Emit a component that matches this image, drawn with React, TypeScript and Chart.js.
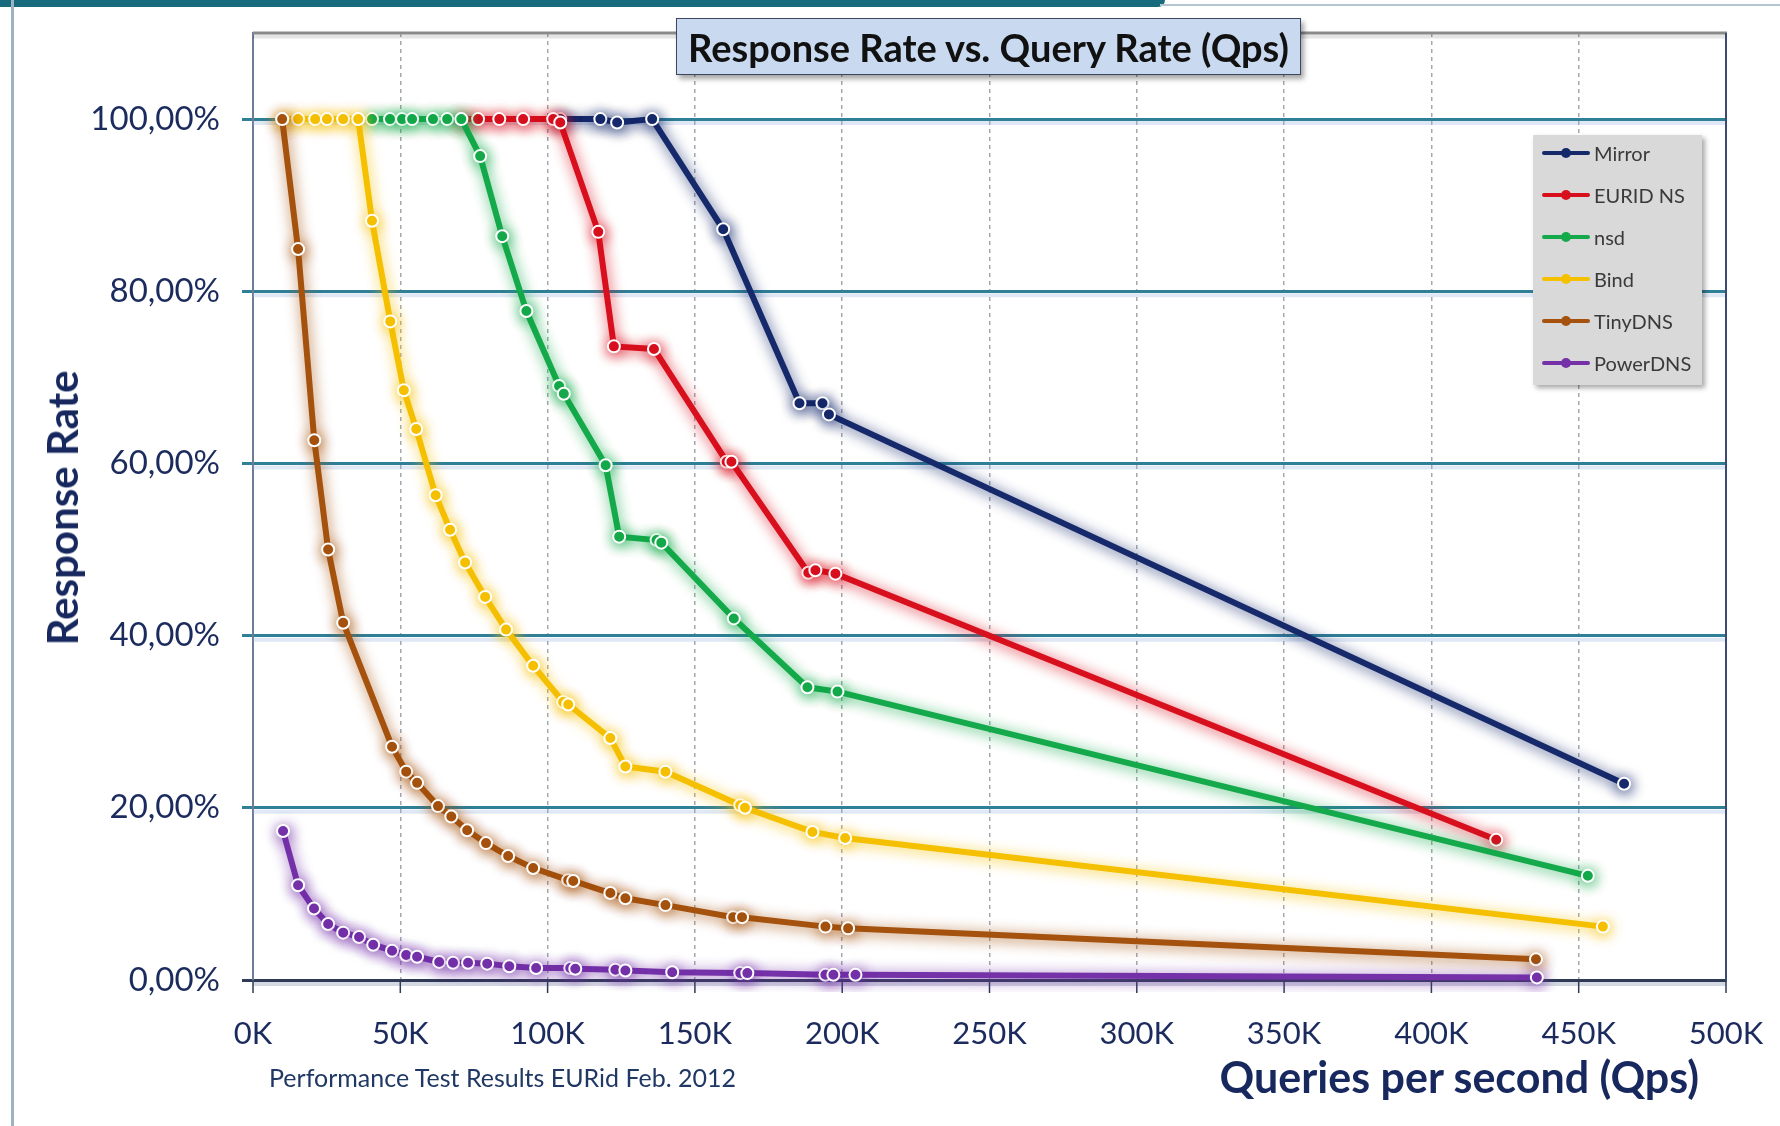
import React, { useEffect, useRef } from 'react';
import { Chart, registerables } from 'chart.js';

Chart.register(...registerables);

// ---------- data (x in K queries per second, y in % response rate) ----------
const seriesNames = ['Mirror', 'EURID NS', 'nsd', 'Bind', 'TinyDNS', 'PowerDNS'];
const seriesColors = ['#15296b', '#d8101e', '#14a94a', '#f5c000', '#a4520e', '#7431a8'];

const mirrorQps = [104.3, 117.9, 123.6, 135.5, 159.6, 185.5, 193.3, 195.5, 465.4];
const mirrorRate = [100, 100, 99.6, 100, 87.2, 67.0, 67.0, 65.7, 22.8];

const euridQps = [70.7, 76.4, 83.6, 91.7, 101.9, 104.3, 117.2, 122.5, 136.1, 160.8, 162.4, 188.5, 190.9, 197.7, 422.0];
const euridRate = [100, 100, 100, 100, 100, 99.6, 86.9, 73.6, 73.3, 60.2, 60.2, 47.3, 47.6, 47.2, 16.3];

const nsdQps = [40.4, 46.5, 50.6, 54.0, 61.1, 65.9, 70.7, 77.1, 84.6, 92.8, 103.9, 105.5, 119.7, 124.3, 137.0, 138.6, 163.2, 188.2, 198.4, 453.1];
const nsdRate = [100, 100, 100, 100, 100, 100, 100, 95.7, 86.4, 77.7, 69.0, 68.1, 59.8, 51.5, 51.1, 50.8, 42.0, 34.0, 33.5, 12.1];

const bindQps = [10.0, 15.3, 21.1, 25.1, 30.6, 35.7, 40.4, 46.6, 51.2, 55.4, 62.0, 66.9, 72.0, 78.8, 85.9, 95.1, 105.3, 107.0, 121.3, 126.4, 140.0, 165.4, 167.0, 189.9, 201.0, 458.2];
const bindRate = [100, 100, 100, 100, 100, 100, 88.2, 76.5, 68.5, 64.0, 56.3, 52.3, 48.5, 44.5, 40.7, 36.5, 32.3, 32.0, 28.1, 24.8, 24.2, 20.3, 20.0, 17.2, 16.5, 6.2];

const tinyQps = [9.9, 15.3, 20.8, 25.5, 30.6, 47.2, 52.0, 55.7, 62.8, 67.3, 72.7, 79.1, 86.6, 95.1, 107.0, 108.7, 121.3, 126.4, 140.0, 163.0, 166.0, 194.3, 202.0, 435.5];
const tinyRate = [100, 84.9, 62.7, 50.0, 41.5, 27.1, 24.2, 22.9, 20.2, 19.0, 17.4, 15.9, 14.4, 13.0, 11.6, 11.5, 10.1, 9.5, 8.7, 7.3, 7.3, 6.2, 6.0, 2.4];

const powerQps = [10.2, 15.3, 20.7, 25.5, 30.6, 36.0, 40.8, 47.2, 52.0, 55.7, 63.2, 67.9, 73.0, 79.5, 87.0, 96.1, 107.7, 109.4, 123.0, 126.4, 142.3, 165.4, 167.8, 194.3, 197.0, 204.5, 435.8];
const powerRate = [17.3, 11.0, 8.3, 6.5, 5.5, 5.0, 4.1, 3.4, 2.9, 2.7, 2.1, 2.0, 2.0, 1.9, 1.6, 1.4, 1.4, 1.3, 1.2, 1.1, 0.9, 0.8, 0.8, 0.6, 0.6, 0.6, 0.3];

const seriesQps = [mirrorQps, euridQps, nsdQps, bindQps, tinyQps, powerQps];
const seriesRate = [mirrorRate, euridRate, nsdRate, bindRate, tinyRate, powerRate];

const xMin = 0;
const xMax = 500;
const xStep = 50;
const yMin = 0;
const yMax = 110;
const yStep = 20;
const yLastTick = 100;

const titleText = 'Response Rate vs. Query Rate (Qps)';
const yTitleText = 'Response Rate';
const xTitleText = 'Queries per second (Qps)';
const footText = 'Performance Test Results EURid Feb. 2012';

const FONT = 'Lato, "Open Sans", "DejaVu Sans", sans-serif';
const NAVY = '#1c2b5e';

function rgba(hex: string, a: number) {
  const h = hex.replace('#', '');
  const r = parseInt(h.slice(0, 2), 16);
  const g = parseInt(h.slice(2, 4), 16);
  const b = parseInt(h.slice(4, 6), 16);
  return `rgba(${r},${g},${b},${a})`;
}

const glowPlugin = {
  id: 'glow',
  beforeDatasetDraw(chart: any, args: any) {
    const ctx = chart.ctx;
    ctx.save();
    const col = chart.data.datasets[args.index].borderColor as string;
    ctx.shadowColor = rgba(col, 0.85);
    ctx.shadowBlur = 14;
    ctx.shadowOffsetX = 1;
    ctx.shadowOffsetY = 2;
  },
  afterDatasetDraw(chart: any) {
    chart.ctx.restore();
  },
};

const framePlugin = {
  id: 'frame',
  beforeDatasetsDraw(chart: any) {
    const { ctx, chartArea: a, scales } = chart;
    const ys = scales.y;
    const xs = scales.x;
    ctx.save();
    // soft shadow under horizontal gridlines
    ctx.strokeStyle = 'rgba(150,180,220,0.30)';
    ctx.lineWidth = 4;
    ys.ticks.forEach((t: any) => {
      if (t.value === 0) return;
      const py = ys.getPixelForValue(t.value) + 4;
      ctx.beginPath();
      ctx.moveTo(a.left, py);
      ctx.lineTo(a.right, py);
      ctx.stroke();
    });
    // top frame with shadow
    ctx.strokeStyle = 'rgba(0,0,0,0.10)';
    ctx.lineWidth = 4;
    ctx.beginPath();
    ctx.moveTo(a.left, a.top + 3.5);
    ctx.lineTo(a.right, a.top + 3.5);
    ctx.stroke();
    ctx.strokeStyle = '#8a8a8a';
    ctx.lineWidth = 3;
    ctx.beginPath();
    ctx.moveTo(a.left, a.top);
    ctx.lineTo(a.right + 1, a.top);
    ctx.stroke();
    // right frame
    ctx.strokeStyle = '#3a4b74';
    ctx.lineWidth = 2;
    ctx.beginPath();
    ctx.moveTo(a.right, a.top);
    ctx.lineTo(a.right, a.bottom);
    ctx.stroke();
    // bottom axis shadow
    ctx.strokeStyle = 'rgba(80,100,140,0.25)';
    ctx.lineWidth = 4;
    ctx.beginPath();
    ctx.moveTo(a.left, a.bottom + 4);
    ctx.lineTo(a.right, a.bottom + 4);
    ctx.stroke();
    // x tick marks
    ctx.strokeStyle = '#2f3b55';
    ctx.lineWidth = 1.5;
    xs.ticks.forEach((t: any) => {
      const px = xs.getPixelForValue(t.value);
      ctx.beginPath();
      ctx.moveTo(px, a.bottom);
      ctx.lineTo(px, a.bottom + 13);
      ctx.stroke();
    });
    ctx.restore();
  },
};

export default function App() {
  const ref = useRef<HTMLCanvasElement>(null);

  useEffect(() => {
    document.body.style.margin = '0';
    const canvas = ref.current;
    if (!canvas) return;
    const datasets = seriesNames.map((name, i) => ({
      label: name,
      data: seriesQps[i].map((q, j) => ({ x: q, y: seriesRate[i][j] })),
      borderColor: seriesColors[i],
      backgroundColor: seriesColors[i],
      pointBackgroundColor: seriesColors[i],
      pointBorderColor: '#ffffff',
      pointBorderWidth: 2,
      pointRadius: 6,
      borderWidth: 6,
      tension: 0,
      fill: false,
      order: seriesNames.length - 1 - i,
      clip: 12,
    }));

    const chart = new Chart(canvas, {
      type: 'line',
      data: { datasets },
      plugins: [framePlugin, glowPlugin],
      options: {
        responsive: false,
        animation: false,
        devicePixelRatio: 1,
        layout: { padding: { top: 33, right: 54, left: 0, bottom: 0 } },
        plugins: {
          legend: { display: false },
          title: { display: false },
          tooltip: { enabled: false },
        },
        scales: {
          x: {
            type: 'linear',
            min: xMin,
            max: xMax,
            afterFit: (s: any) => {
              s.height = 146;
              s.paddingLeft = 0;
              s.paddingRight = 0;
            },
            ticks: {
              stepSize: xStep,
              color: NAVY,
              font: { family: FONT, size: 31 },
              padding: 35,
              maxRotation: 0,
              callback: (v: any) => `${v}K`,
            },
            grid: {
              drawTicks: false,
              color: (c: any) => (c.tick && (c.tick.value === xMin || c.tick.value === xMax) ? 'rgba(0,0,0,0)' : '#a3a8b0'),
              lineWidth: 1.5,
            },
            border: { display: true, color: '#2f3b55', width: 3, dash: [4, 4] },
          },
          y: {
            type: 'linear',
            min: yMin,
            max: yMax,
            afterFit: (s: any) => {
              s.width = 253;
              s.paddingTop = 0;
              s.paddingBottom = 0;
            },
            afterBuildTicks: (s: any) => {
              s.ticks = s.ticks.filter((t: any) => t.value <= yLastTick);
            },
            ticks: {
              stepSize: yStep,
              color: NAVY,
              font: { family: FONT, size: 33 },
              padding: 22,
              callback: (v: any) => `${Number(v).toFixed(2).replace('.', ',')}%`,
            },
            grid: {
              drawTicks: true,
              tickLength: 11,
              color: (c: any) => (c.tick && c.tick.value === 0 ? 'rgba(0,0,0,0)' : '#2f7f97'),
              tickColor: (c: any) => (c.tick && c.tick.value === 0 ? '#2f3b55' : '#2f7f97'),
              lineWidth: 3,
            },
            border: { display: true, color: '#6d7c9b', width: 2 },
          },
        },
      },
    } as any);
    return () => chart.destroy();
  }, []);

  const legendTop = 135;
  return (
    <div style={{ position: 'relative', width: 1780, height: 1126, background: '#ffffff', overflow: 'hidden', fontFamily: FONT }}>
      {/* slide decorations */}
      <div style={{ position: 'absolute', left: 0, top: 0, width: 1165, height: 7, background: '#176b7c', borderBottomRightRadius: 14 }} />
      <div style={{ position: 'absolute', left: 1160, top: 4, width: 620, height: 2, background: '#b3c6d2' }} />
      <div style={{ position: 'absolute', left: 11, top: 0, width: 3, height: 1126, background: '#9db2c3' }} />

      <canvas ref={ref} width={1780} height={1126} style={{ position: 'absolute', left: 0, top: 0 }} />

      {/* chart title */}
      <div
        style={{
          position: 'absolute',
          left: 676,
          top: 18,
          width: 625,
          height: 57,
          boxSizing: 'border-box',
          background: '#c9daf0',
          border: '1.5px solid #3b4660',
          boxShadow: '3px 4px 5px rgba(0,0,0,0.35)',
          display: 'flex',
          alignItems: 'center',
          justifyContent: 'center',
          fontWeight: 700,
          fontSize: 38,
          color: '#111111',
          whiteSpace: 'nowrap',
        }}
      >
        {titleText}
      </div>

      {/* y axis title */}
      <div
        style={{
          position: 'absolute',
          left: 62,
          top: 508,
          transform: 'translate(-50%, -50%) rotate(-90deg)',
          fontWeight: 700,
          fontSize: 42,
          color: '#17285e',
          whiteSpace: 'nowrap',
        }}
      >
        {yTitleText}
      </div>

      {/* x axis title */}
      <div
        style={{
          position: 'absolute',
          right: 1780 - 1699,
          top: 1076,
          transform: 'translateY(-50%)',
          fontWeight: 700,
          fontSize: 43,
          color: '#17285e',
          whiteSpace: 'nowrap',
        }}
      >
        {xTitleText}
      </div>

      {/* footnote */}
      <div
        style={{
          position: 'absolute',
          left: 269,
          top: 1077,
          transform: 'translateY(-50%)',
          fontSize: 25,
          color: '#1f3864',
          whiteSpace: 'nowrap',
        }}
      >
        {footText}
      </div>

      {/* legend */}
      <div
        style={{
          position: 'absolute',
          left: 1533,
          top: legendTop,
          width: 169,
          height: 250,
          background: '#d9d9d9',
          boxShadow: '3px 3px 5px rgba(0,0,0,0.35)',
        }}
      >
        {seriesNames.map((n, i) => (
          <div
            key={n}
            style={{ position: 'absolute', left: 9, top: 18 + i * 42, transform: 'translateY(-50%)', display: 'flex', alignItems: 'center' }}
          >
            <div style={{ position: 'relative', width: 48, height: 10, marginRight: 4 }}>
              <div style={{ position: 'absolute', left: 0, right: 0, top: 3, height: 4, background: seriesColors[i], borderRadius: 2 }} />
              <div style={{ position: 'absolute', left: 19, top: 0, width: 10, height: 10, borderRadius: 5, background: seriesColors[i] }} />
            </div>
            <span style={{ fontSize: 20, color: '#3a3a3a', lineHeight: '24px' }}>{n}</span>
          </div>
        ))}
      </div>
    </div>
  );
}
